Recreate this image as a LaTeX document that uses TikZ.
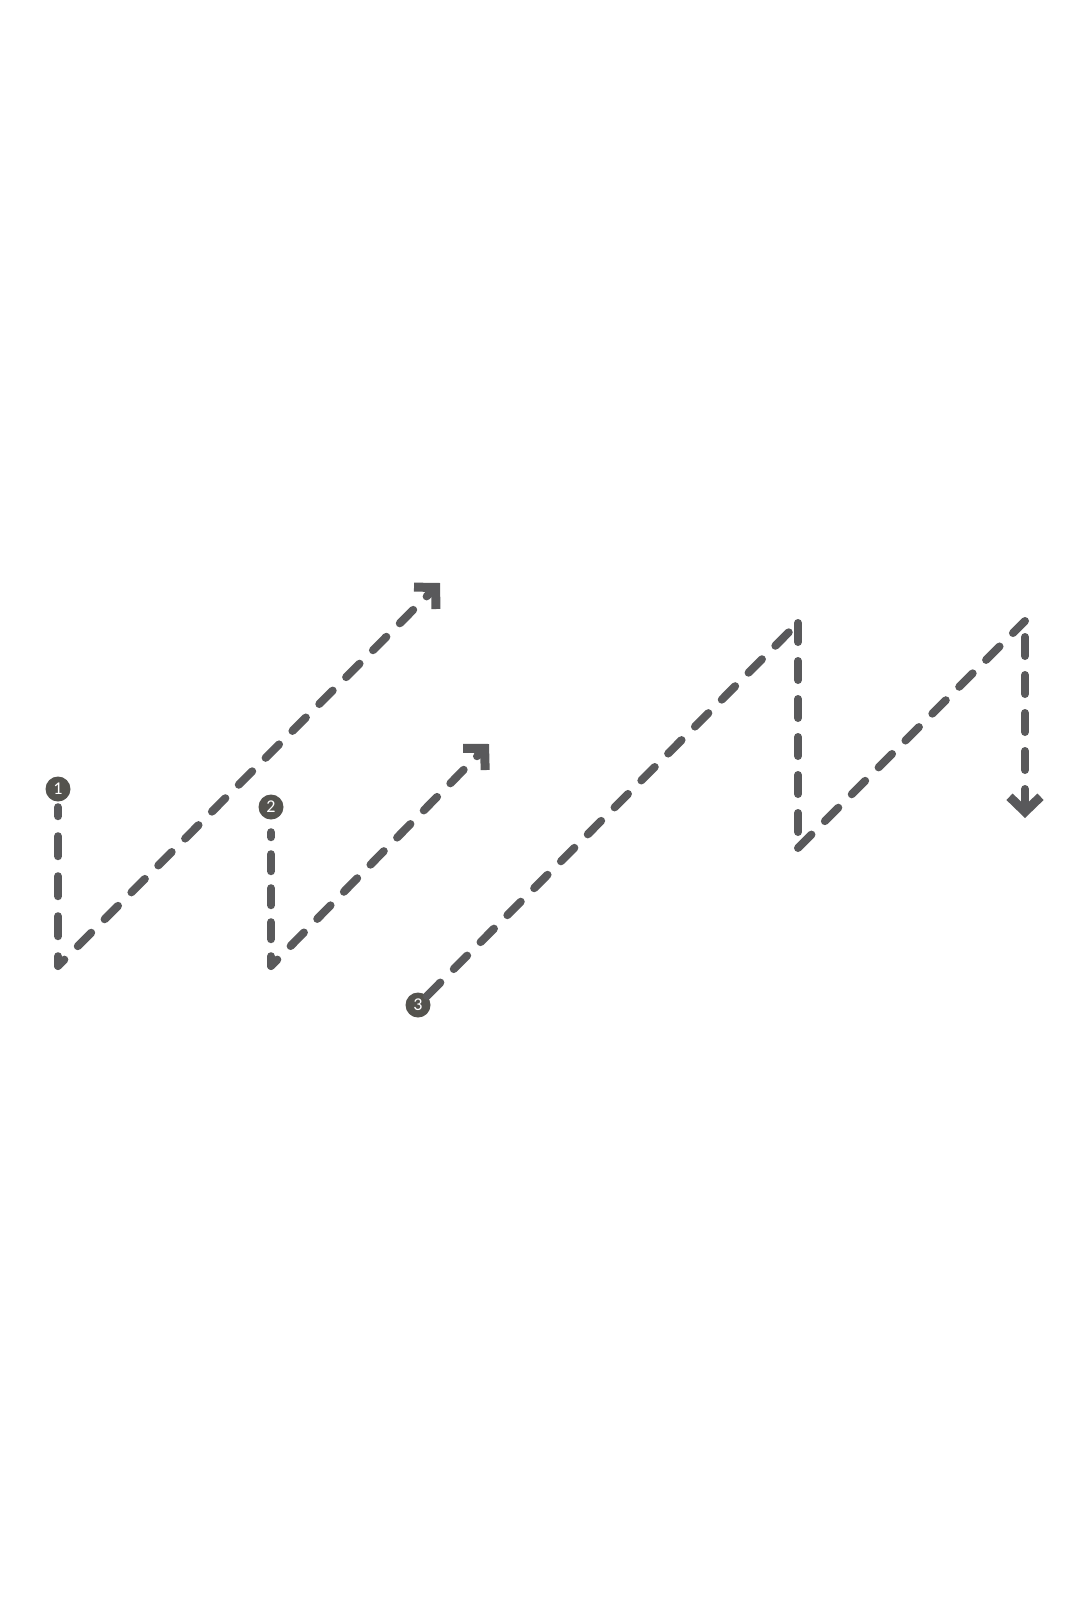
\documentclass[tikz,border=0pt]{standalone}
\usepackage{fontspec}
\setmainfont{Carlito}
\usetikzlibrary{arrows.meta}
\definecolor{lc}{RGB}{89,89,91}
\definecolor{bc}{RGB}{84,83,78}
\begin{document}
\begin{tikzpicture}[x=1pt,y=-1pt,
  dl/.style={draw=lc, line width=8pt, line cap=round, line join=round, dash pattern=on 19pt off 19pt},
  tipped/.style={-{Straight Barb[length=15pt,width=31pt,line width=9pt]}},
  badge/.style={circle, fill=bc, minimum size=25pt, inner sep=0pt, text=white, font=\fontsize{18pt}{18pt}\selectfont}]
\useasboundingbox (0,0) rectangle (1067,1600);
% badges
\node[badge] (b1) at (58,789) {1};
\node[badge] (b2) at (271,807) {2};
\node[badge] (b3) at (418,1005) {3};
% corners and ends
\coordinate (c1) at (58,966);
\coordinate (t1) at (440,583);
\coordinate (c2) at (271,966);
\coordinate (t2) at (489,744);
\coordinate (p3a) at (798,623);
\coordinate (p3b) at (798,848);
\coordinate (p3c) at (1025,621);
\coordinate (t3) at (1025,818);
% path 1
\draw[dl, dash pattern=on 20pt off 20pt, dash phase=11pt, shorten <=5.5pt] (b1) -- (c1);
\draw[dl, dash phase=10pt, tipped] (c1) -- (t1);
% path 2
\draw[dl, dash pattern=on 17pt off 17pt, dash phase=12pt, shorten <=12.5pt] (b2) -- (c2);
\draw[dl, dash phase=10pt, tipped] (c2) -- (t2);
% path 3
\draw[dl] (b3) -- (p3a);
\draw[dl] (p3a) -- (p3b);
\draw[dl] (p3b) -- (p3c);
\draw[dl, dash phase=22pt, tipped] (p3c) -- (t3);
\end{tikzpicture}
\end{document}
